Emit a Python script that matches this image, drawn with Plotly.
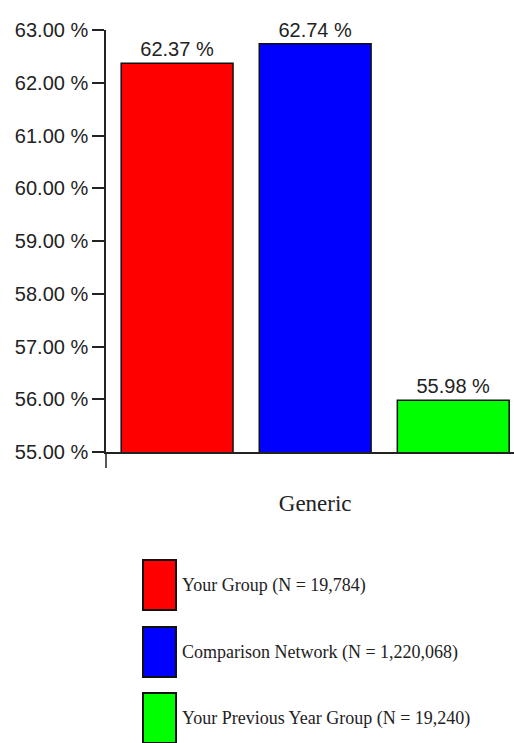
import plotly.graph_objects as go

categories = ["Generic"]
series_names = ["Your Group (N = 19,784)",
                "Comparison Network (N = 1,220,068)",
                "Your Previous Year Group (N = 19,240)"]
series_values = [[62.37], [62.74], [55.98]]
series_colors = ["#ff0000", "#0000ff", "#00ff00"]
tick_vals = [55, 56, 57, 58, 59, 60, 61, 62, 63]
tick_labels = ["%.2f %%" % v for v in tick_vals]

sans = "Liberation Sans, Arial, sans-serif"
serif = "Liberation Serif, Times New Roman, serif"

fig = go.Figure()
for name, vals, col in zip(series_names, series_values, series_colors):
    fig.add_trace(go.Bar(
        x=categories, y=vals, name=name,
        marker=dict(color=col, line=dict(color="#111111", width=1.5)),
        text=["%.2f %%" % v for v in vals], textposition="outside",
        textfont=dict(family=sans, size=20, color="#222222"),
        cliponaxis=False, showlegend=False,
    ))

fig.update_layout(
    width=514, height=743,
    margin=dict(l=106, r=0, t=30, b=291),
    paper_bgcolor="white", plot_bgcolor="white",
    barmode="group", bargap=0.0, bargroupgap=0.19,
    xaxis=dict(type="category", range=[-0.505, 0.48], showline=True,
               linecolor="#222222", linewidth=1.5, ticks="",
               tickfont=dict(family=serif, size=23, color="#222222"),
               ticklabelstandoff=30, showgrid=False, fixedrange=True),
    yaxis=dict(range=[55, 63], tickvals=tick_vals, ticktext=tick_labels,
               showline=True, linecolor="#222222", linewidth=1.5,
               ticks="outside", ticklen=12, tickwidth=1.5, tickcolor="#222222",
               tickfont=dict(family=sans, size=20, color="#222222"),
               showgrid=False, zeroline=False, fixedrange=True),
)

# y-axis line extension below the x axis
fig.add_shape(type="line", xref="paper", yref="paper", x0=0, x1=0, y0=0, y1=-0.038,
              line=dict(color="#222222", width=1.5))

# custom legend with large swatches
sw_x0, sw_x1 = 143, 176
sw_tops = [560, 627, 693]
sw_h = 50
W, H = 514, 743
pl, pb, pw, ph = 106, 291, 408, 422
def px2paper_x(px):
    return (px - pl) / pw
def px2paper_y(py):
    return (H - pb - py) / ph
for top, name, col in zip(sw_tops, series_names, series_colors):
    fig.add_shape(type="rect", xref="paper", yref="paper",
                  x0=px2paper_x(sw_x0), x1=px2paper_x(sw_x1),
                  y0=px2paper_y(top), y1=px2paper_y(top + sw_h),
                  fillcolor=col, line=dict(color="#111111", width=2))
    fig.add_annotation(xref="paper", yref="paper", x=px2paper_x(180),
                       y=px2paper_y(top + 25), text=name, showarrow=False,
                       xanchor="left", yanchor="middle",
                       font=dict(family=serif, size=18, color="#222222"))

fig.write_html("out.html")
